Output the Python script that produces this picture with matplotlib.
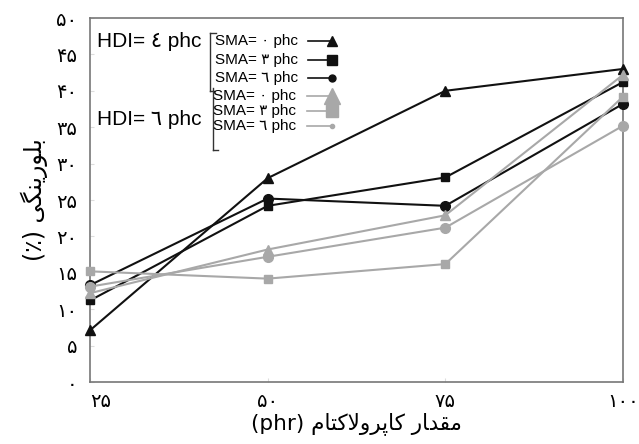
import matplotlib
matplotlib.use("Agg")
import matplotlib.pyplot as plt
from matplotlib.lines import Line2D

# ---- data ----
x_vals = [25, 50, 75, 100]
x_labels = ["۲۵", "۵۰", "۷۵", "۱۰۰"]
y_ticks = [0, 5, 10, 15, 20, 25, 30, 35, 40, 45, 50]
y_labels = ["۰", "۵", "۱۰", "۱۵", "۲۰", "۲۵", "۳۰", "۳۵", "۴۰", "۴۵", "۵۰"]

hdi4_sma0 = [7.1, 28.0, 40.0, 43.0]
hdi4_sma3 = [11.2, 24.2, 28.1, 41.2]
hdi4_sma6 = [13.3, 25.2, 24.2, 38.2]
hdi6_sma0 = [12.2, 18.2, 22.9, 42.2]
hdi6_sma3 = [15.2, 14.2, 16.2, 39.2]
hdi6_sma6 = [13.1, 17.2, 21.2, 35.2]

hdi_labels = ["HDI= ٤ phc", "HDI= ٦ phc"]
sma_labels = ["SMA= ٠ phc", "SMA= ٣ phc", "SMA= ٦ phc"]

# Persian labels in visual (presentation-form) order
xlabel = "(phr) " + "\uFEE1\uFE8E\uFE98\uFB90\uFEFB\uFEED\uFEAE\uFB58\uFE8E\uFB90" + " " + "\uFEAD\uFE8E\uFEAA\uFED8\uFEE3"
ylabel = "(٪) " + "\uFBFD\uFB95\uFEE8\uFBFE\uFEAD\uFEEE\uFEE0\uFE91"

W, H = 639, 444
fig = plt.figure(figsize=(W / 100, H / 100), dpi=100)
ax = fig.add_axes([90 / W, 1 - 382 / H, (623 - 90) / W, (382 - 18) / H])

black = "#111111"
grey = "#a8a8a8"
series = [
    (hdi4_sma0, black, "^", 7),
    (hdi4_sma3, black, "s", 6),
    (hdi4_sma6, black, "o", 7),
    (hdi6_sma0, grey, "^", 7),
    (hdi6_sma3, grey, "s", 6),
    (hdi6_sma6, grey, "o", 7),
]
for vals, c, m, ms in series:
    ax.plot(x_vals, vals, color=c, marker=m, markersize=ms, linewidth=1.5, clip_on=False, zorder=3)

ax.set_xlim(25, 100)
ax.set_ylim(0, 50)
ax.set_xticks(x_vals)
ax.set_xticklabels(x_labels, fontsize=14, family=["DejaVu Sans"])
ax.get_xticklabels()[0].set_ha("left")
ax.set_yticks(y_ticks)
ax.set_yticklabels(y_labels, fontsize=14, family=["DejaVu Sans"])
ax.tick_params(axis="both", direction="in", length=3, color="#dddddd")
ax.tick_params(axis="x", pad=7)
ax.tick_params(axis="y", pad=9)
for s in ax.spines.values():
    s.set_color("#777777")
    s.set_linewidth(1.2)

ax.set_xlabel(xlabel, fontsize=15.5, family=["DejaVu Sans"], labelpad=1)
ax.set_ylabel(ylabel, fontsize=17, family=["DejaVu Sans"], labelpad=6)

# ---- custom legend (figure pixel coordinates) ----
def fx(px):
    return px / W

def fy(py):
    return 1 - py / H

lf = ["Liberation Sans", "DejaVu Sans"]
fig.text(fx(97), fy(41), hdi_labels[0], fontsize=15, family=lf, va="center", ha="left")
fig.text(fx(97), fy(119), hdi_labels[1], fontsize=15, family=lf, va="center", ha="left")

bk = dict(color="#333333", linewidth=1.0, transform=fig.transFigure)
fig.add_artist(Line2D([fx(210), fx(210)], [fy(33), fy(91)], **bk))
fig.add_artist(Line2D([fx(210), fx(216)], [fy(33), fy(33)], **bk))
fig.add_artist(Line2D([fx(210), fx(214)], [fy(91), fy(91)], **bk))
fig.add_artist(Line2D([fx(213), fx(213)], [fy(88), fy(150)], **bk))
fig.add_artist(Line2D([fx(213), fx(218)], [fy(150), fy(150)], **bk))

black_y = [41, 60, 78]
grey_y = [96, 111, 126]
leg_ms = [(("^", 7), ("s", 7), ("o", 5)), (("^", 11), ("s", 8), ("o", 3))]
for i, lab in enumerate(sma_labels):
    fig.text(fx(215), fy(black_y[i]), lab, fontsize=11, family=lf, va="center", ha="left")
    fig.add_artist(Line2D([fx(308), fx(332)], [fy(black_y[i])] * 2, color=black, linewidth=1.2,
                          marker=leg_ms[0][i][0], markersize=leg_ms[0][i][1], markevery=[1],
                          transform=fig.transFigure))
    fig.text(fx(213), fy(grey_y[i]), lab, fontsize=11, family=lf, va="center", ha="left")
    fig.add_artist(Line2D([fx(307), fx(332)], [fy(grey_y[i])] * 2, color=grey, linewidth=1.2,
                          marker=leg_ms[1][i][0], markersize=leg_ms[1][i][1], markevery=[1],
                          transform=fig.transFigure))

fig.savefig("out.png", dpi=100)
